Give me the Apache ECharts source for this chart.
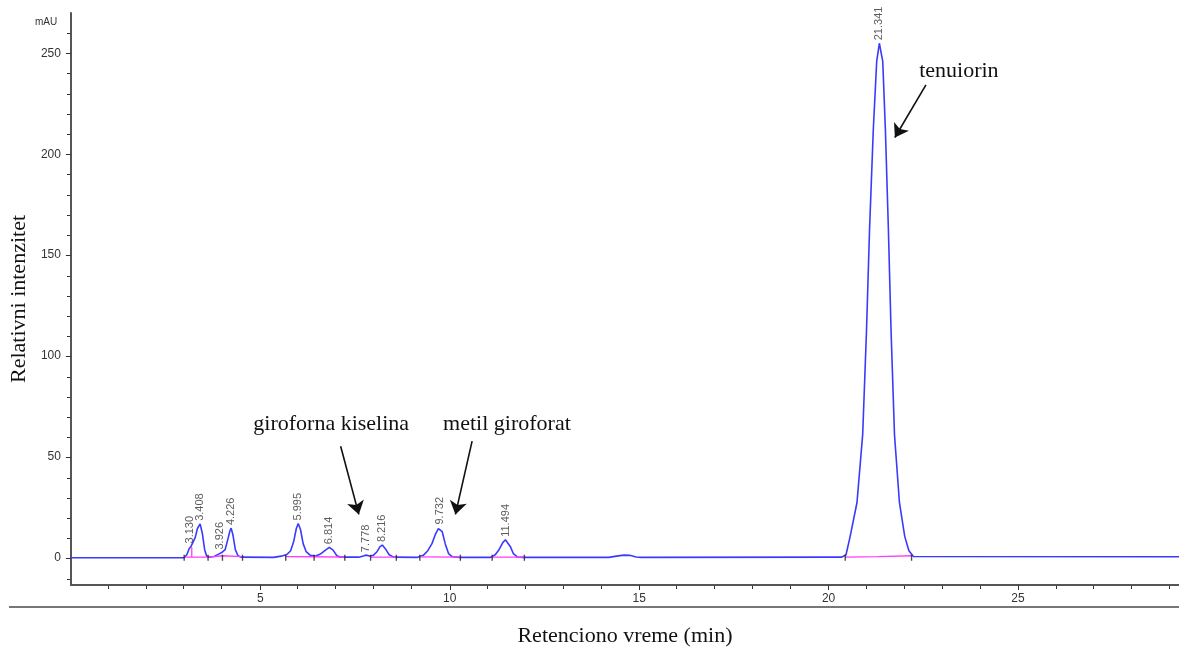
<!DOCTYPE html>
<html>
<head>
<meta charset="utf-8">
<title>Hromatogram</title>
<script src="https://cdn.jsdelivr.net/npm/echarts@6.0.0/dist/echarts.min.js"></script>
<style>
  html, body { margin: 0; padding: 0; background: #fff; }
  #chart { width: 1179px; height: 652px; }
</style>
</head>
<body>
<div id="chart"></div>
<script>
// signal (blue), retention time in min
var traceTime = [0, 2.98, 3.06, 3.12, 3.17, 3.22, 3.28, 3.34, 3.41, 3.47, 3.53, 3.58, 3.64, 3.78, 3.90, 3.98,
  4.07, 4.14, 4.20, 4.23, 4.28, 4.34, 4.41, 4.50, 5.35, 5.55, 5.70, 5.80, 5.88, 5.95, 6.00, 6.06, 6.13, 6.21,
  6.32, 6.45, 6.60, 6.72, 6.82, 6.92, 7.02, 7.12, 7.60, 7.72, 7.79, 7.88, 7.98, 8.08, 8.16, 8.22, 8.30, 8.40,
  8.52, 9.15, 9.30, 9.42, 9.53, 9.63, 9.70, 9.74, 9.80, 9.88, 9.97, 10.07, 10.25, 11.08, 11.20, 11.30, 11.40,
  11.47, 11.52, 11.60, 11.68, 11.78, 11.92, 14.20, 14.40, 14.60, 14.75, 14.92, 15.05, 20.35, 20.46, 20.57,
  20.75, 20.90, 21.00, 21.08, 21.18, 21.27, 21.34, 21.43, 21.50, 21.58, 21.65, 21.74, 21.87, 22.01, 22.12,
  22.24, 29.25];
// mAU
var traceValue = [0, 0, 1.5, 4.5, 5.6, 6.5, 10, 14.5, 16.8, 12, 4, 1, 0.3, 0.6, 1.8, 2.6,
  4, 9, 13.5, 14.7, 11, 4, 1, 0.3, 0.2, 0.8, 1.6, 3.5, 8, 14.5, 17, 14, 7, 3,
  1.2, 0.8, 2, 3.8, 5.2, 3.8, 1, 0.3, 0.3, 0.9, 1.3, 0.9, 1.2, 3, 5.5, 6.3, 4.5, 1.5,
  0.3, 0.2, 1.2, 3.5, 7, 12, 14.5, 15, 13, 7, 2, 0.5, 0.2, 0.2, 1.5, 4, 7.5,
  8.9, 8.7, 5.5, 2, 0.4, 0.2, 0.2, 0.8, 1.3, 1.2, 0.4, 0.2, 0.3, 1.5, 10.6,
  27.4, 61, 112, 162, 212, 246, 255, 246, 212, 162, 112, 61, 27.4, 10.6, 3.5,
  0.6, 0.5];

// integration baselines (magenta)
var baselineSegments = [
  [[2.99, 0.3], [3.62, 0.3]],
  [[3.19, 0.3], [3.19, 5.2]],
  [[3.62, 0.3], [4.00, 1.0], [4.53, 0.6]],
  [[5.67, 0.6], [6.42, 0.5], [7.23, 0.3]],
  [[7.91, 0.3], [8.59, 0.3]],
  [[9.21, 0.4], [10.28, 0.3]],
  [[11.12, 0.3], [11.97, 0.3]],
  [[20.44, 0.3], [21.30, 0.6], [22.19, 1.0]]
];
// peak start / end markers
var markTimes = [2.99, 3.62, 4.00, 4.53, 5.67, 6.42, 7.23, 7.91, 8.59, 9.21, 10.28, 11.12, 11.97, 20.44, 22.19];

// peak labels
var peakTimes = [3.130, 3.408, 3.926, 4.226, 5.995, 6.814, 7.778, 8.216, 9.732, 11.494, 21.341];
var peakHeights = [5.6, 16.8, 2.6, 14.7, 17, 5.2, 1.3, 6.3, 15, 8.9, 255];
var peakNames = ['3.130', '3.408', '3.926', '4.226', '5.995', '6.814', '7.778', '8.216', '9.732', '11.494', '21.341'];

// annotations
var noteNames = ['giroforna kiselina', 'metil giroforat', 'tenuiorin'];
var noteX = [6.87, 11.51, 23.44];
var noteY = [66.1, 66.1, 241];
var arrowFrom = [[7.12, 55.3], [10.59, 57.8], [22.57, 234.4]];
var arrowTo = [[7.60, 21.5], [10.15, 21.5], [21.75, 208.3]];

// axis ticks
var xMajor = [5, 10, 15, 20, 25];
var xMinor = [1, 2, 3, 4, 6, 7, 8, 9, 11, 12, 13, 14, 16, 17, 18, 19, 21, 22, 23, 24, 26, 27, 28, 29];
var yMajor = [0, 50, 100, 150, 200, 250];
var yMinor = [-10, 10, 20, 30, 40, 60, 70, 80, 90, 110, 120, 130, 140, 160, 170, 180, 190,
  210, 220, 230, 240, 260];

function initChart() {
  var myChart = echarts.init(document.getElementById('chart'));
  var sans = '"Liberation Sans", Arial, sans-serif';
  var serif = '"Liberation Serif", "Times New Roman", serif';

  var traceData = [];
  for (var i = 0; i < traceTime.length; i++) {
    traceData.push([traceTime[i], traceValue[i]]);
  }
  var peakData = [];
  for (var j = 0; j < peakTimes.length; j++) {
    peakData.push([peakTimes[j], peakHeights[j], peakNames[j]]);
  }
  var noteData = [];
  for (var k = 0; k < noteNames.length; k++) {
    noteData.push({ name: noteNames[k], coord: [noteX[k], noteY[k]] });
  }
  var arrowData = [];
  for (var a = 0; a < arrowFrom.length; a++) {
    arrowData.push([{ coord: arrowFrom[a] }, { coord: arrowTo[a] }]);
  }

  var series = [
    {
      name: 'signal',
      type: 'line',
      xAxisIndex: 0,
      yAxisIndex: 0,
      data: traceData,
      showSymbol: false,
      lineStyle: { color: '#3a3aff', width: 1.6 },
      z: 3,
      markLine: {
        silent: true,
        symbol: ['none', 'arrow'],
        symbolSize: 13,
        label: { show: false },
        lineStyle: { color: '#111', width: 1.6, type: 'solid' },
        data: arrowData
      },
      markPoint: {
        silent: true,
        symbol: 'circle',
        symbolSize: 0,
        label: {
          show: true,
          position: 'inside',
          formatter: '{b}',
          fontFamily: serif,
          fontSize: 22,
          color: '#111'
        },
        data: noteData
      }
    }
  ];
  // magenta integration baselines
  baselineSegments.forEach(function (seg) {
    series.push({
      type: 'line',
      data: seg,
      showSymbol: false,
      lineStyle: { color: '#ff3cff', width: 1.3 },
      z: 4
    });
  });
  series.push({
    type: 'scatter',
    data: markTimes.map(function (t) { return [t, 0]; }),
    symbol: 'rect',
    symbolSize: [1.4, 6],
    itemStyle: { color: '#222' },
    z: 5
  });
  series.push({
    type: 'scatter',
    data: peakData,
    symbolSize: 0,
    label: {
      show: true,
      position: 'top',
      distance: 3,
      rotate: 90,
      align: 'left',
      verticalAlign: 'middle',
      formatter: function (p) { return p.value[2]; },
      fontFamily: sans,
      fontSize: 11,
      color: '#333'
    },
    z: 6
  });

  var option = {
    animation: false,
    backgroundColor: '#fff',
    grid: [
      { left: 70, right: 0, top: 13, bottom: 66 },
      { left: 70, right: 0, top: 13, bottom: 66 }
    ],
    xAxis: [
      {
        type: 'value', gridIndex: 0, min: 0, max: 29.25,
        name: 'Retenciono vreme (min)', nameLocation: 'middle', nameGap: 40,
        nameTextStyle: { fontFamily: serif, fontSize: 22, color: '#111' },
        axisLine: { onZero: false, lineStyle: { color: '#555', width: 2 } },
        axisTick: { customValues: xMajor, length: 5, lineStyle: { color: '#333' } },
        axisLabel: { customValues: xMajor, margin: 8, fontFamily: sans, fontSize: 12, color: '#333' },
        splitLine: { show: false }
      },
      {
        type: 'value', gridIndex: 1, min: 0, max: 29.25,
        axisLine: { show: false, onZero: false },
        axisTick: { customValues: xMinor, length: 3, lineStyle: { color: '#333' } },
        axisLabel: { show: false },
        splitLine: { show: false }
      }
    ],
    yAxis: [
      {
        type: 'value', gridIndex: 0, min: -13.5, max: 270,
        name: 'Relativni intenzitet', nameLocation: 'middle', nameGap: 37,
        nameTextStyle: { fontFamily: serif, fontSize: 22, color: '#111' },
        axisLine: { show: true, onZero: false, lineStyle: { color: '#555', width: 2 } },
        axisTick: { show: true, customValues: yMajor, length: 5, lineStyle: { color: '#333' } },
        axisLabel: { customValues: yMajor, margin: 10, fontFamily: sans, fontSize: 12, color: '#333' },
        splitLine: { show: false }
      },
      {
        type: 'value', gridIndex: 1, min: -13.5, max: 270,
        axisLine: { show: false, onZero: false },
        axisTick: { show: true, customValues: yMinor, length: 3, lineStyle: { color: '#333' } },
        axisLabel: { show: false },
        splitLine: { show: false }
      }
    ],
    graphic: [
      { type: 'line', shape: { x1: 9, y1: 607, x2: 1179, y2: 607 }, style: { stroke: '#777', lineWidth: 2 } },
      { type: 'text', left: 35, top: 17, style: { text: 'mAU', font: '10px ' + sans, fill: '#333' } }
    ],
    series: series
  };
  myChart.setOption(option);
}
initChart();
</script>
</body>
</html>
